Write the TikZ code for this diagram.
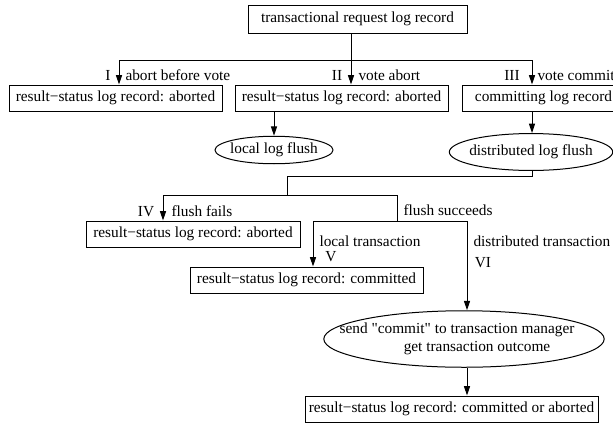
\documentclass[tikz,border=0pt]{standalone}
\usepackage{fontspec}
\setmainfont{Liberation Serif}
\usetikzlibrary{arrows.meta,positioning,calc,shapes.geometric}

\begin{document}
\begin{tikzpicture}[x=0.75pt,y=-0.75pt,line width=0.75pt,>={Triangle[length=7pt,width=4.5pt]},
  every node/.style={font=\fontsize{11.5}{13.5}\selectfont}]
\tikzstyle{logrec}=[draw,rectangle,inner sep=0pt,minimum height=19.5pt]
\tikzstyle{flush}=[draw,ellipse,inner ysep=2pt]
\tikzstyle{numlab}=[anchor=base,inner sep=0pt]
\tikzstyle{txtlab}=[anchor=base west,inner sep=0pt]
\useasboundingbox (0,0) rectangle (613,429);
%
%
\node[logrec,minimum width=164.25pt,minimum height=21pt] (req) at (357.5,19) {transactional request log record};
  \node[logrec,minimum width=159.75pt] (abort1) at (115.5,98) {result−status log record: aborted};
  \node[logrec,minimum width=159.75pt] (abort2) at (341.5,98) {result−status log record: aborted};
  \node[logrec,minimum width=121.5pt,anchor=west] (commit) at (462,98) {committing log record};
  \node[flush,inner xsep=-1.6pt] (lflush) at (274,150) {local log flush};
  \node[flush,inner xsep=-3pt,inner ysep=4.5pt] (dflush) at (531,152) {distributed log flush};
  \node[logrec,minimum width=160.5pt] (abort4) at (193,234) {result−status log record: aborted};
  \node[logrec,minimum width=174.75pt] (commit5) at (306.5,280) {result−status log record: committed};
  \node[flush,align=center,inner xsep=-18.95pt,inner ysep=3pt] (send) at (464,339) {send \textquotedbl commit\textquotedbl\ to transaction manager\hspace*{10.5pt}\\\hspace*{30pt}get transaction outcome\hspace*{10.5pt}};
  \node[logrec,minimum width=219.75pt] (final) at (451.5,409) {result−status log record: committed or aborted};

  \coordinate (b1) at (119,60);
  \coordinate (b2) at (351,60);
  \coordinate (b3) at (532,60);
  \coordinate (s1) at (287,176);
  \coordinate (f4) at (163,195);
  \coordinate (f5) at (397,195);
  \coordinate (g5) at (313,221);
  \coordinate (g6) at (467,221);

  \node[numlab] (n1) at (108,80) {I};
  \node[txtlab] (t1) at (125,80) {abort before vote};
  \node[numlab] (n2) at (337,80) {II};
  \node[txtlab] (t2) at (358,80) {vote abort};
  \node[numlab] (n3) at (512,80) {III};
  \node[txtlab] (t3) at (537,80) {vote commit};
  \node[numlab] (n4) at (146,216) {IV};
  \node[txtlab] (t4) at (171,216) {flush fails};
  \node[txtlab] (t45) at (403,215) {flush succeeds};
  \node[txtlab] (t5) at (319,246) {local transaction};
  \node[numlab] (n5) at (331,261) {V};
  \node[txtlab] (t6) at (473,246) {distributed transaction};
  \node[numlab] (n6) at (483,267) {VI};

  \draw[->] (req.south -| b2) -- (abort2.north -| b2);
  \draw (b1) -- (b3);
  \draw[->] (b1) -- (abort1.north -| b1);
  \draw[->] (b3) -- (commit.north -| b3);
  \draw[->] (abort2.south -| lflush) -- (lflush);
  \draw[->] (commit.south -| b3) -- (dflush.north -| b3);
  \draw (dflush.south -| b3) |- (s1) -- (s1 |- f4);
  \draw (f4) -- (f5) -- (f5 |- g5);
  \draw[->] (f4) -- (abort4.north -| f4);
  \draw (g5) -- (g6);
  \draw[->] (g5) -- (commit5.north -| g5);
  \draw[->] (g6) -- (send.north -| g6);
  \draw[->] (send.south -| g6) -- (final.north -| g6);
\end{tikzpicture}
\end{document}
